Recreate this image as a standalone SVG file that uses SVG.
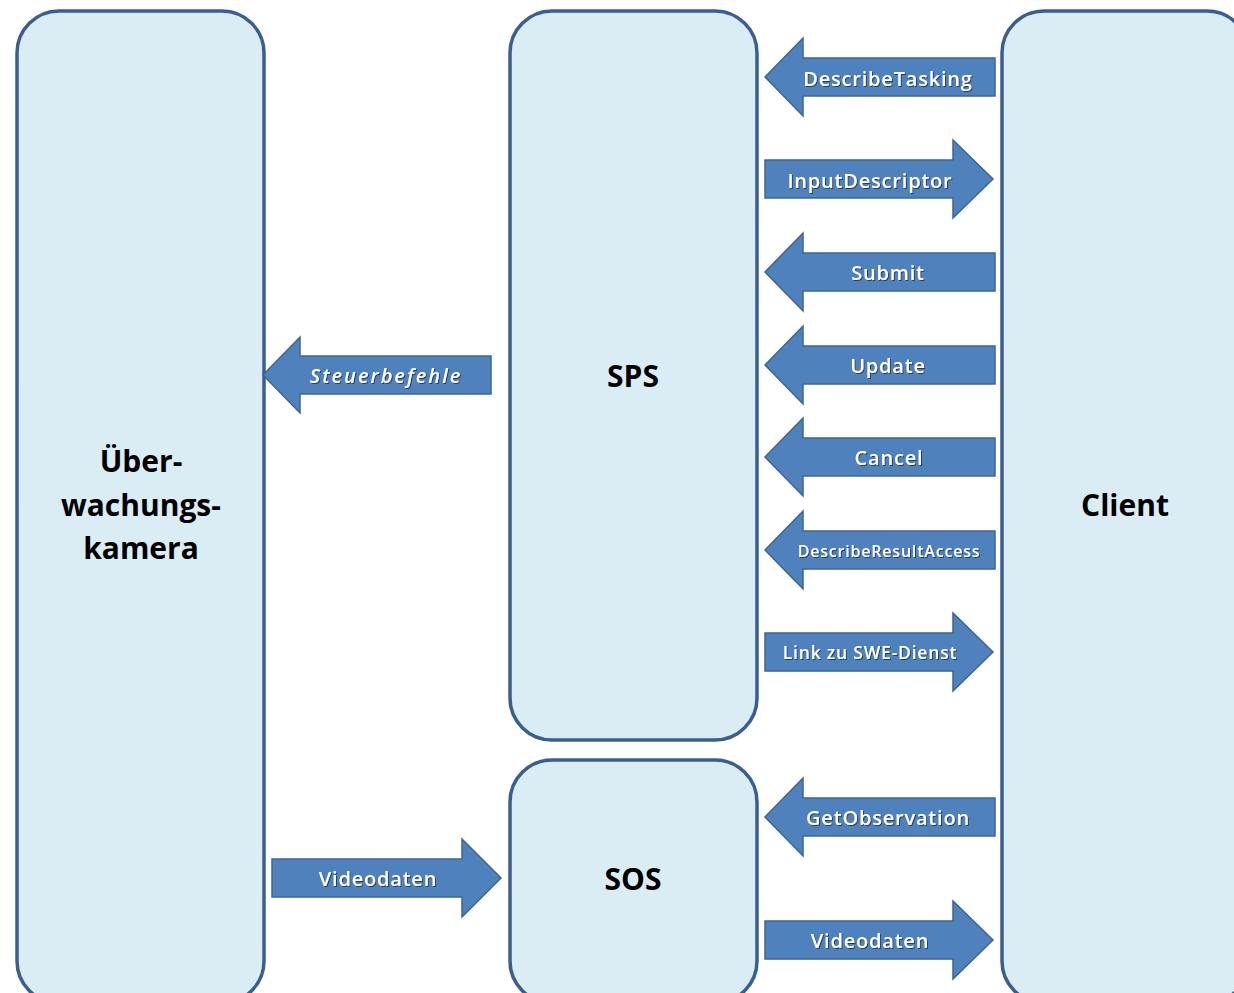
<svg xmlns="http://www.w3.org/2000/svg" width="1234" height="993" viewBox="0 0 1234 993">
<defs>
<style>
.node{fill:#dbedf4;stroke:#3a5f8f;stroke-width:3.5}
.arr{fill:#4f81bd;stroke:#3d6594;stroke-width:1.5;stroke-linejoin:miter}
.al{font-family:"Open Sans","Liberation Sans",sans-serif;font-weight:600;fill:#ffffff;text-anchor:middle;letter-spacing:0.8px;filter:url(#sh)}
.nl{font-family:"Open Sans","Liberation Sans",sans-serif;font-weight:700;font-size:30px;fill:#000000;text-anchor:middle}
</style>
<filter id="sh" x="-10%" y="-30%" width="120%" height="160%">
<feDropShadow dx="1" dy="1" stdDeviation="0.6" flood-color="#1a2a40" flood-opacity="0.8"/>
</filter>
</defs>
<rect width="1234" height="993" fill="#ffffff"/>
<g id="kamera">
<rect class="node" x="17" y="11" width="247" height="992" rx="42"/>
<text class="nl" x="141" y="472">Über-</text>
<text class="nl" x="141" y="516">wachungs-</text>
<text class="nl" x="141" y="559">kamera</text>
</g>
<g id="sps">
<rect class="node" x="510" y="11" width="247" height="729" rx="42"/>
<text class="nl" x="633" y="387">SPS</text>
</g>
<g id="sos">
<rect class="node" x="510" y="760" width="247" height="243" rx="42"/>
<text class="nl" x="633" y="890">SOS</text>
</g>
<g id="client">
<rect class="node" x="1002" y="11" width="247" height="992" rx="42"/>
<text class="nl" x="1125" y="516">Client</text>
</g>
<g id="connectors">
<path class="arr" d="M765,77 L803,38 L803,58 L995,58 L995,96 L803,96 L803,116 Z"/>
<text class="al" x="888" y="86" font-size="20">DescribeTasking</text>
<path class="arr" d="M765,160 L953,160 L953,140 L993,179 L953,218 L953,198 L765,198 Z"/>
<text class="al" x="870" y="188" font-size="20">InputDescriptor</text>
<path class="arr" d="M765,272 L803,233 L803,253 L995,253 L995,291 L803,291 L803,311 Z"/>
<text class="al" x="888" y="280" font-size="20">Submit</text>
<path class="arr" d="M765,365 L803,326 L803,346 L995,346 L995,384 L803,384 L803,404 Z"/>
<text class="al" x="888" y="373" font-size="20">Update</text>
<path class="arr" d="M765,457 L803,418 L803,438 L995,438 L995,476 L803,476 L803,496 Z"/>
<text class="al" x="889" y="465" font-size="20">Cancel</text>
<path class="arr" d="M765,550 L803,511 L803,531 L995,531 L995,569 L803,569 L803,589 Z"/>
<text class="al" x="889" y="557" font-size="16">DescribeResultAccess</text>
<path class="arr" d="M765,633 L953,633 L953,613 L993,652 L953,691 L953,671 L765,671 Z"/>
<text class="al" x="870" y="659" font-size="17.5">Link zu SWE-Dienst</text>
<path class="arr" d="M765,817 L803,778 L803,798 L995,798 L995,836 L803,836 L803,856 Z"/>
<text class="al" x="888" y="825" font-size="20">GetObservation</text>
<path class="arr" d="M765,921 L953,921 L953,901 L993,940 L953,979 L953,959 L765,959 Z"/>
<text class="al" x="870" y="948" font-size="20">Videodaten</text>
<path class="arr" d="M263,375 L300,337 L300,356 L491,356 L491,394 L300,394 L300,413 Z"/>
<text class="al" x="386" y="383" font-size="20" font-style="italic" style="letter-spacing:2px">Steuerbefehle</text>
<path class="arr" d="M272,859 L462,859 L462,839 L501,878 L462,917 L462,897 L272,897 Z"/>
<text class="al" x="378" y="886" font-size="20">Videodaten</text>
</g>
</svg>
